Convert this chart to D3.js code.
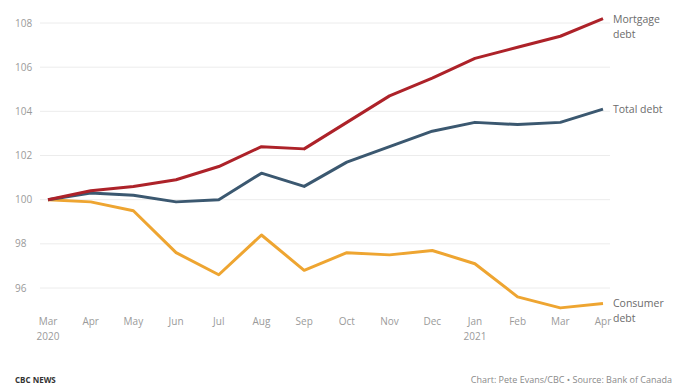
<!DOCTYPE html>
<html>
<head>
<meta charset="utf-8">
<script src="https://cdn.jsdelivr.net/npm/d3@7"></script>
<style>
  body { margin: 0; background: #fff; }
  svg { font-family: "Open Sans", sans-serif; }
  .grid line { stroke: #ececec; }
  .tick text { fill: #9a9a9a; font-size: 10px; }
</style>
</head>
<body>
<div id="chart"></div>
<script>
// Dados (índice, mar 2020 = 100)
const months = ["Mar", "Apr", "May", "Jun", "Jul", "Aug", "Sep", "Oct", "Nov", "Dec", "Jan", "Feb", "Mar", "Apr"];
const years = {0: "2020", 10: "2021"};
const mortgage = [100, 100.4, 100.6, 100.9, 101.5, 102.4, 102.3, 103.5, 104.7, 105.5, 106.4, 106.9, 107.4, 108.2];
const total = [100, 100.3, 100.2, 99.9, 100.0, 101.2, 100.6, 101.7, 102.4, 103.1, 103.5, 103.4, 103.5, 104.1];
const consumer = [100, 99.9, 99.5, 97.6, 96.6, 98.4, 96.8, 97.6, 97.5, 97.7, 97.1, 95.6, 95.1, 95.3];
const yTicks = [96, 98, 100, 102, 104, 106, 108];

const width = 691, height = 391;
const svg = d3.select("#chart").append("svg")
    .attr("width", width)
    .attr("height", height);

// Escalas
const x = d3.scaleLinear().domain([0, months.length - 1]).range([48, 603]);
const y = d3.scaleLinear().domain([96, 108]).range([288, 23]);

// Grade horizontal
svg.append("g")
    .attr("class", "grid")
    .selectAll("line")
    .data(yTicks)
    .join("line")
    .attr("x1", 40).attr("x2", 610)
    .attr("y1", d => y(d)).attr("y2", d => y(d));

// Eixo Y
svg.append("g")
    .attr("class", "tick")
    .selectAll("text")
    .data(yTicks)
    .join("text")
    .attr("x", 15)
    .attr("y", d => y(d) + 3.5)
    .text(d => d);

// Eixo X
const xg = svg.append("g").attr("class", "tick");
xg.selectAll("text.m")
    .data(months)
    .join("text")
    .attr("class", "m")
    .attr("x", (d, i) => x(i))
    .attr("y", 325)
    .attr("text-anchor", "middle")
    .text(d => d);
xg.selectAll("text.yr")
    .data(Object.entries(years))
    .join("text")
    .attr("class", "yr")
    .attr("x", d => x(+d[0]))
    .attr("y", 340)
    .attr("text-anchor", "middle")
    .text(d => d[1]);

// Linhas
const line = d3.line()
    .x((d, i) => x(i))
    .y(d => y(d));

const series = [
    {values: consumer, color: "#eea531", label: ["Consumer", "debt"]},
    {values: total, color: "#3b5870", label: ["Total debt"]},
    {values: mortgage, color: "#ad2229", label: ["Mortgage", "debt"]}
];

series.forEach(s => {
    svg.append("path")
        .datum(s.values)
        .attr("fill", "none")
        .attr("stroke", s.color)
        .attr("stroke-width", 3)
        .attr("stroke-linejoin", "round")
        .attr("d", line);

    const last = s.values[s.values.length - 1];
    const t = svg.append("text")
        .attr("x", 613)
        .attr("y", y(last) + 4)
        .attr("fill", "#6b6b6b")
        .style("font-size", "10.5px");
    s.label.forEach((l, i) => {
        t.append("tspan").attr("x", 613).attr("dy", i === 0 ? 0 : 15).text(l);
    });
});

// Rodapé
svg.append("text")
    .attr("x", 15).attr("y", 383)
    .attr("fill", "#333")
    .style("font-size", "8px")
    .style("font-weight", "bold")
    .text("CBC NEWS");

svg.append("text")
    .attr("x", 672).attr("y", 383)
    .attr("text-anchor", "end")
    .attr("fill", "#8a8a8a")
    .style("font-size", "9px")
    .text("Chart: Pete Evans/CBC • Source: Bank of Canada");
</script>
</body>
</html>
